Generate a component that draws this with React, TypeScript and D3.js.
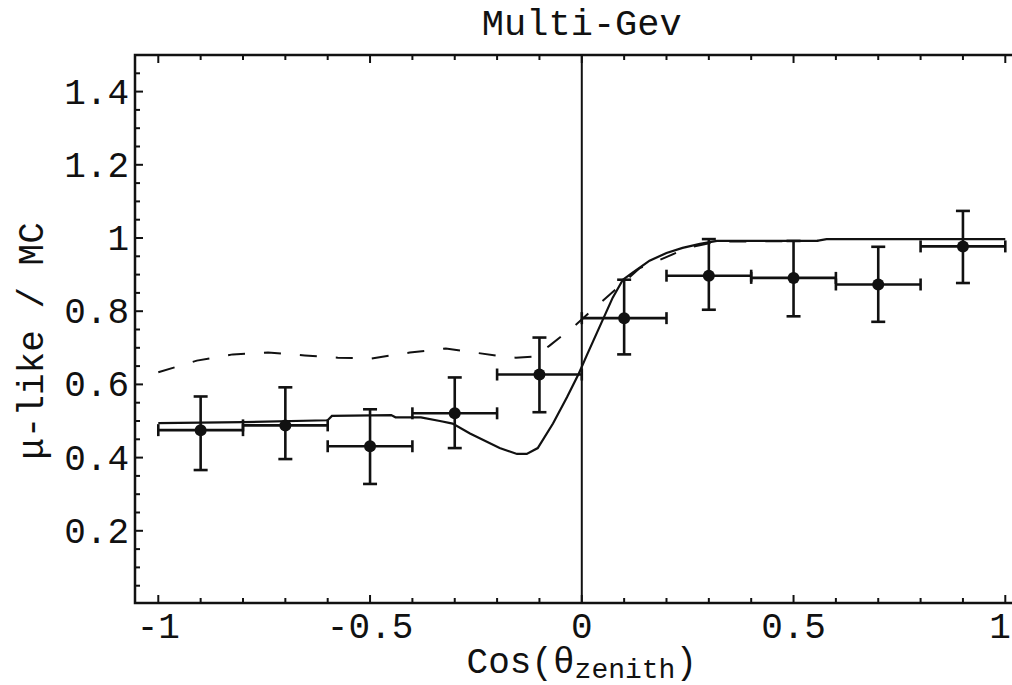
import React from "react";
import * as d3 from "d3";

// ---- data ----
const binCenters = [-0.9, -0.7, -0.5, -0.3, -0.1, 0.1, 0.3, 0.5, 0.7, 0.9];
const binHalfWidth = [0.1, 0.1, 0.1, 0.1, 0.1, 0.1, 0.1, 0.1, 0.1, 0.1];
const ratioValues = [0.475, 0.488, 0.431, 0.521, 0.627, 0.781, 0.897, 0.891, 0.873, 0.977];
const errUpper = [0.567, 0.592, 0.532, 0.619, 0.728, 0.886, 0.997, 0.992, 0.976, 1.074];
const errLower = [0.366, 0.396, 0.328, 0.426, 0.524, 0.682, 0.804, 0.786, 0.771, 0.877];

const solidX = [-1.0, -0.8, -0.6, -0.59, -0.45, -0.44, -0.38, -0.335, -0.305, -0.264, -0.194, -0.153, -0.13, -0.104, -0.068, -0.035, -0.007, 0.012, 0.038, 0.073, 0.097, 0.12, 0.16, 0.2, 0.238, 0.279, 0.319, 0.555, 0.578, 1.0];
const solidY = [0.494, 0.497, 0.502, 0.514, 0.516, 0.51, 0.51, 0.5, 0.493, 0.466, 0.426, 0.41, 0.41, 0.426, 0.493, 0.565, 0.63, 0.68, 0.747, 0.837, 0.886, 0.905, 0.938, 0.959, 0.973, 0.984, 0.992, 0.992, 0.997, 0.997];

const dashedX = [-1.0, -0.909, -0.824, -0.741, -0.654, -0.576, -0.496, -0.406, -0.321, -0.253, -0.203, -0.156, -0.111, -0.076, -0.017, 0.047, 0.137, 0.184, 0.25, 0.32, 0.555, 0.578, 1.0];
const dashedY = [0.633, 0.665, 0.682, 0.687, 0.679, 0.673, 0.671, 0.687, 0.698, 0.687, 0.679, 0.673, 0.676, 0.706, 0.76, 0.826, 0.918, 0.94, 0.973, 0.99, 0.992, 0.997, 0.997];

const xTickLabels = ["-1", "-0.5", "0", "0.5", "1"];
const xTickValues = [-1, -0.5, 0, 0.5, 1];
const yTickLabels = ["0.2", "0.4", "0.6", "0.8", "1", "1.2", "1.4"];
const yTickValues = [0.2, 0.4, 0.6, 0.8, 1.0, 1.2, 1.4];

const titleText = "Multi-Gev";
const yLabelText = "\u03bc-like / MC";

// ---- layout ----
const W = 1012;
const H = 685;
const left = 135;
const top = 55;
const bottom = 603;
const FONT = "'Liberation Mono', 'DejaVu Sans Mono', monospace";

export default function App() {
  const x = d3.scaleLinear().domain([-1.055, 1.055]).range([left, left + 2.11 * 423.5]);
  const y = d3.scaleLinear().domain([0, 1.5]).range([bottom + 1, top]);
  const right = x(1.055);

  const line = d3
    .line<[number, number]>()
    .x((d) => x(d[0]))
    .y((d) => y(d[1]));

  const solidPts = solidX.map((v, i) => [v, solidY[i]] as [number, number]);
  const dashedPts = dashedX.map((v, i) => [v, dashedY[i]] as [number, number]);

  const xMinor = d3.range(-10, 11).map((k) => k / 10).filter((v) => Math.abs(v * 2 - Math.round(v * 2)) > 1e-6);
  const yMinor = d3.range(1, 30).map((k) => k / 20).filter((v) => Math.abs(v * 5 - Math.round(v * 5)) > 1e-6);

  const ink = "#111";
  const cap = 7;

  return (
    <svg
      width={W}
      height={H}
      viewBox={`0 0 ${W} ${H}`}
      style={{ position: "absolute", left: 0, top: 0, background: "#fff" }}
    >
      <rect x={0} y={0} width={W} height={H} fill="#fff" />
      {/* title */}
      <text x={x(0)} y={35} fontFamily={FONT} fontSize={37} textAnchor="middle" fill={ink}>
        {titleText}
      </text>

      {/* frame */}
      <rect x={left} y={top} width={right - left} height={bottom - top} fill="none" stroke={ink} strokeWidth={2.5} />

      {/* x ticks bottom & top */}
      {xTickValues.map((v) => (
        <g key={"xm" + v}>
          <line x1={x(v)} x2={x(v)} y1={bottom} y2={bottom - 8} stroke={ink} strokeWidth={2} />
          <line x1={x(v)} x2={x(v)} y1={top} y2={top + 8} stroke={ink} strokeWidth={2} />
        </g>
      ))}
      {xMinor.map((v) => (
        <g key={"xn" + v}>
          <line x1={x(v)} x2={x(v)} y1={bottom} y2={bottom - 5} stroke={ink} strokeWidth={2} />
          <line x1={x(v)} x2={x(v)} y1={top} y2={top + 5} stroke={ink} strokeWidth={2} />
        </g>
      ))}
      {/* y ticks left */}
      {yTickValues.map((v) => (
        <line key={"ym" + v} x1={left} x2={left + 8} y1={y(v)} y2={y(v)} stroke={ink} strokeWidth={2} />
      ))}
      {yMinor.map((v) => (
        <line key={"yn" + v} x1={left} x2={left + 5} y1={y(v)} y2={y(v)} stroke={ink} strokeWidth={2} />
      ))}

      {/* tick labels */}
      {xTickValues.map((v, i) => (
        <text
          key={"xl" + v}
          x={Math.min(x(v), W - 12)}
          y={638}
          fontFamily={FONT}
          fontSize={36}
          textAnchor="middle"
          fill={ink}
        >
          {xTickLabels[i]}
        </text>
      ))}
      {yTickValues.map((v, i) => (
        <text key={"yl" + v} x={129} y={y(v) + 12} fontFamily={FONT} fontSize={36} textAnchor="end" fill={ink}>
          {yTickLabels[i]}
        </text>
      ))}

      {/* axis labels */}
      <text x={x(0)} y={673} fontFamily={FONT} fontSize={36} textAnchor="middle" fill={ink}>
        Cos(<tspan>{"\u03b8"}</tspan>
        <tspan fontSize={28} dy={5}>zenith</tspan>
        <tspan dy={-5}>)</tspan>
      </text>
      <text
        transform={`translate(43, 341) rotate(-90)`}
        fontFamily={FONT}
        fontSize={36}
        textAnchor="middle"
        fill={ink}
      >
        {yLabelText}
      </text>

      {/* x=0 vertical line */}
      <line x1={x(0)} x2={x(0)} y1={top} y2={bottom} stroke={ink} strokeWidth={2} />

      {/* curves */}
      <path d={line(dashedPts) || ""} fill="none" stroke={ink} strokeWidth={2} strokeDasharray="17,19" />
      <path d={line(solidPts) || ""} fill="none" stroke={ink} strokeWidth={2.2} />

      {/* data points with error bars */}
      {binCenters.map((c, i) => {
        const cx = x(c);
        const cy = y(ratioValues[i]);
        const x0 = x(c - binHalfWidth[i]);
        const x1 = x(c + binHalfWidth[i]);
        const yt = y(errUpper[i]);
        const yb = y(errLower[i]);
        return (
          <g key={"p" + i} stroke={ink} strokeWidth={2.6}>
            <line x1={x0} x2={x1} y1={cy} y2={cy} />
            <line x1={x0} x2={x0} y1={cy - 6} y2={cy + 6} />
            <line x1={x1} x2={x1} y1={cy - 6} y2={cy + 6} />
            <line x1={cx} x2={cx} y1={yt} y2={yb} />
            <line x1={cx - cap} x2={cx + cap} y1={yt} y2={yt} />
            <line x1={cx - cap} x2={cx + cap} y1={yb} y2={yb} />
            <circle cx={cx} cy={cy} r={6} fill={ink} stroke="none" />
          </g>
        );
      })}
    </svg>
  );
}
